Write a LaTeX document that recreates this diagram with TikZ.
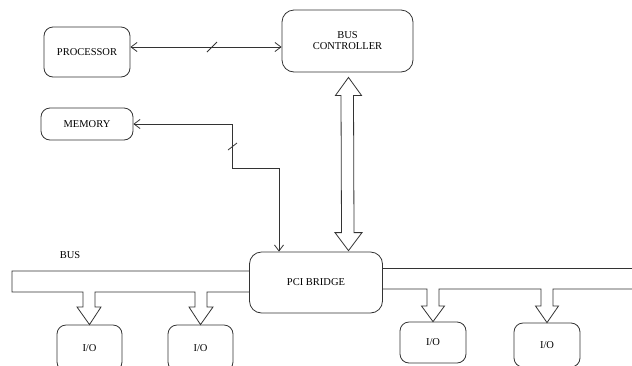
\documentclass[tikz,border=0pt]{standalone}
\usepackage{fontspec}
\setmainfont{Liberation Serif}
\usetikzlibrary{arrows.meta,calc}
\begin{document}
\begin{tikzpicture}[x=1pt,y=-1pt,
  ln/.style={line width=0.8pt,draw=black!80},
  blk/.style={ln,rounded corners=9pt,inner sep=0pt,align=center,font=\fontsize{10.5}{12}\selectfont},
  lbl/.style={inner sep=0pt,font=\fontsize{10.5}{12}\selectfont},
  tip/.style={ln,{Straight Barb[length=6pt,width=9pt]}-{Straight Barb[length=6pt,width=9pt]}},
  bus/.style={ln,line join=miter}]
\useasboundingbox (0,0) rectangle (632,365);
\begin{scope}
\clip (0,0) rectangle (632,365);
\node[blk,minimum width=86pt,minimum height=50pt] (proc) at (87,52) {PROCESSOR};
\node[blk,minimum width=131pt,minimum height=62pt,rounded corners=12pt] (bc) at (347.5,41) {BUS\\[-1pt]CONTROLLER};
\node[blk,minimum width=92pt,minimum height=32pt] (mem) at (87,124) {MEMORY};
\node[blk,minimum width=133pt,minimum height=61pt,rounded corners=12pt] (pci) at (316,282.5) {PCI BRIDGE};
\node[blk,minimum width=65pt,minimum height=46pt] (io1) at (89.5,348) {I/O};
\node[blk,minimum width=65pt,minimum height=46pt] (io2) at (200.5,348) {I/O};
\node[blk,minimum width=66pt,minimum height=41pt] (io3) at (433,342.5) {I/O};
\node[blk,minimum width=66pt,minimum height=44pt] (io4) at (547,345) {I/O};
\end{scope}
\node[lbl] (buslbl) at (70,255) {BUS};

% processor <-> bus controller
\draw[tip] (proc.east |- 0,47) -- (bc.west |- 0,47);
\draw[ln] (207,52) -- (217,42);

% memory <-> PCI bridge
\coordinate (m1) at (232,124);
\coordinate (m2) at (232,168);
\coordinate (m3) at (279,168);
\draw[tip] (mem.east) -- (m1) -- (m2) -- (m3) -- (m3 |- pci.north);
\draw[ln] (228,150) -- (237,143);

% hollow double arrow bus controller <-> PCI bridge
\draw[bus] ($(bc.south)+(1,5)$) coordinate (t1)
  -- ++(13,18) -- ++(-8,0) -- ($(pci.north)+(38,-19)$) -- ++(8,0)
  -- ($(pci.north)+(32.5,-1)$) coordinate (t2)
  -- ++(-13.5,-18) -- ++(6.5,0) -- ($(t1)+(-7.5,18)$) -- ++(-5.5,0) -- cycle;

% left bus
\draw[bus] (pci.west |- 0,271) -- (12,271) -- (12,292)
  -- (83,292) -- (83,307) -- (77,307) -- (io1.north) -- (101,307) -- (95,307) -- (95,292)
  -- (195,292) -- (195,307) -- (189,307) -- (io2.north) -- (213,307) -- (207,307) -- (207,292)
  -- (pci.west |- 0,292);

% right bus
\draw[bus] (pci.east |- 0,268) -- (632,268);
\draw[bus] (pci.east |- 0,289)
  -- (427,289) -- (427,306) -- (421.5,306) -- (io3.north) -- (444.5,306) -- (439,306) -- (439,289)
  -- (541,289) -- (541,306) -- (535.5,306) -- (io4.north) -- (558.5,306) -- (553,306) -- (553,289)
  -- (632,289);
\end{tikzpicture}
\end{document}
